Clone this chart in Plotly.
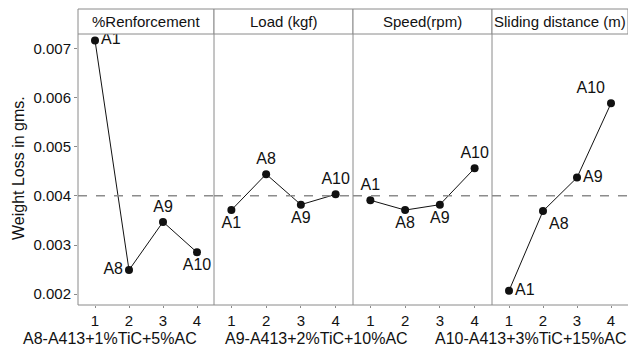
import plotly.graph_objects as go

panels = ["%Renforcement", "Load (kgf)", "Speed(rpm)", "Sliding distance (m)"]
levels = [1, 2, 3, 4]
tick_labels = ["1", "2", "3", "4"]
point_labels = ["A1", "A8", "A9", "A10"]

reinforcement = [0.00716, 0.00249, 0.00347, 0.00285]
load = [0.00371, 0.00444, 0.00382, 0.00403]
speed = [0.00391, 0.00371, 0.00382, 0.00456]
sliding = [0.00207, 0.00369, 0.00437, 0.00588]
series = [reinforcement, load, speed, sliding]

mean_line = 0.0040
bottom_titles = ["A8-A413+1%TiC+5%AC", "A9-A413+2%TiC+10%AC", "A10-A413+3%TiC+15%AC"]

text_pos = [
    ["middle right", "middle left", "top center", "bottom center"],
    ["bottom center", "top center", "bottom center", "top center"],
    ["top center", "bottom center", "bottom center", "top center"],
    ["middle right", "bottom right", "middle right", "top left"],
]

W, H = 628, 349
ml, mr, mt, mb = 78, 0, 34, 44
plot_w = W - ml - mr
plot_h = H - mt - mb
edges_px = [78, 214, 353, 492, 628]
domains = [((edges_px[i] - ml) / plot_w, (edges_px[i + 1] - ml) / plot_w) for i in range(4)]

FONT = "Liberation Sans, Arial, sans-serif"
AX = "#8a8a8a"

fig = go.Figure()
for i in range(4):
    suffix = "" if i == 0 else str(i + 1)
    fig.add_trace(go.Scatter(
        x=levels, y=series[i], mode="lines+markers+text",
        text=point_labels, textposition=text_pos[i],
        textfont=dict(size=16, color="#111", family=FONT),
        line=dict(color="#111", width=1),
        marker=dict(color="#111", size=8),
        xaxis="x" + suffix, yaxis="y", showlegend=False, cliponaxis=False,
    ))
    fig.layout["xaxis" + suffix] = dict(
        domain=list(domains[i]), range=[0.5, 4.5], tickvals=levels, ticktext=tick_labels,
        showgrid=False, zeroline=False, showline=False, ticks="outside", ticklen=2,
        tickcolor=AX, tickfont=dict(size=15, color="#111", family=FONT), anchor="y",
        fixedrange=True, automargin=False,
    )
    fig.add_shape(type="line", xref=("x" + suffix + " domain") if suffix else "x domain", yref="y",
                  x0=0, x1=1, y0=mean_line, y1=mean_line,
                  line=dict(color="#8c8c8c", width=1.5, dash="dash"))
    # header strip
    fig.add_shape(type="rect", xref="paper", yref="paper",
                  x0=domains[i][0], x1=domains[i][1], y0=1, y1=1 + 25 / plot_h,
                  line=dict(color=AX, width=1), fillcolor="white")
    fig.add_annotation(text=panels[i], xref="paper", yref="paper",
                       x=(domains[i][0] + domains[i][1]) / 2, y=1 + 12.5 / plot_h,
                       showarrow=False, font=dict(size=15, color="#111", family=FONT),
                       xanchor="center", yanchor="middle")
    # panel divider
    fig.add_shape(type="line", xref="paper", yref="paper",
                  x0=domains[i][0], x1=domains[i][0], y0=0, y1=1,
                  line=dict(color=AX, width=1))

fig.add_shape(type="line", xref="paper", yref="paper", x0=0, x1=1, y0=0, y1=0,
              line=dict(color=AX, width=1))

title_x_px = [110, 316, 531]
for t, xp in zip(bottom_titles, title_x_px):
    fig.add_annotation(text=t, xref="paper", yref="paper", x=(xp - ml) / plot_w,
                       y=-33 / plot_h, showarrow=False, xanchor="center", yanchor="middle",
                       font=dict(size=16, color="#111", family=FONT))

fig.add_annotation(text="Weight Loss in gms.", xref="paper", yref="paper",
                   x=(18 - ml) / plot_w, y=(H - mb - 168) / plot_h, textangle=-90,
                   showarrow=False, xanchor="center", yanchor="middle",
                   font=dict(size=16, color="#111", family=FONT))

fig.update_layout(
    width=W, height=H, margin=dict(l=ml, r=mr, t=mt, b=mb, autoexpand=False),
    paper_bgcolor="white", plot_bgcolor="white",
    yaxis=dict(range=[0.00178, 0.00729], tickvals=[0.002, 0.003, 0.004, 0.005, 0.006, 0.007],
               ticktext=["0.002", "0.003", "0.004", "0.005", "0.006", "0.007"],
               showgrid=False, zeroline=False, showline=False, ticks="outside", ticklen=3,
               tickcolor=AX, tickfont=dict(size=15, color="#111", family=FONT),
               fixedrange=True, automargin=False),
)

fig.write_html("out.html", config={"displayModeBar": False},
               post_script="document.body.style.margin='0';document.body.style.overflow='hidden';")
